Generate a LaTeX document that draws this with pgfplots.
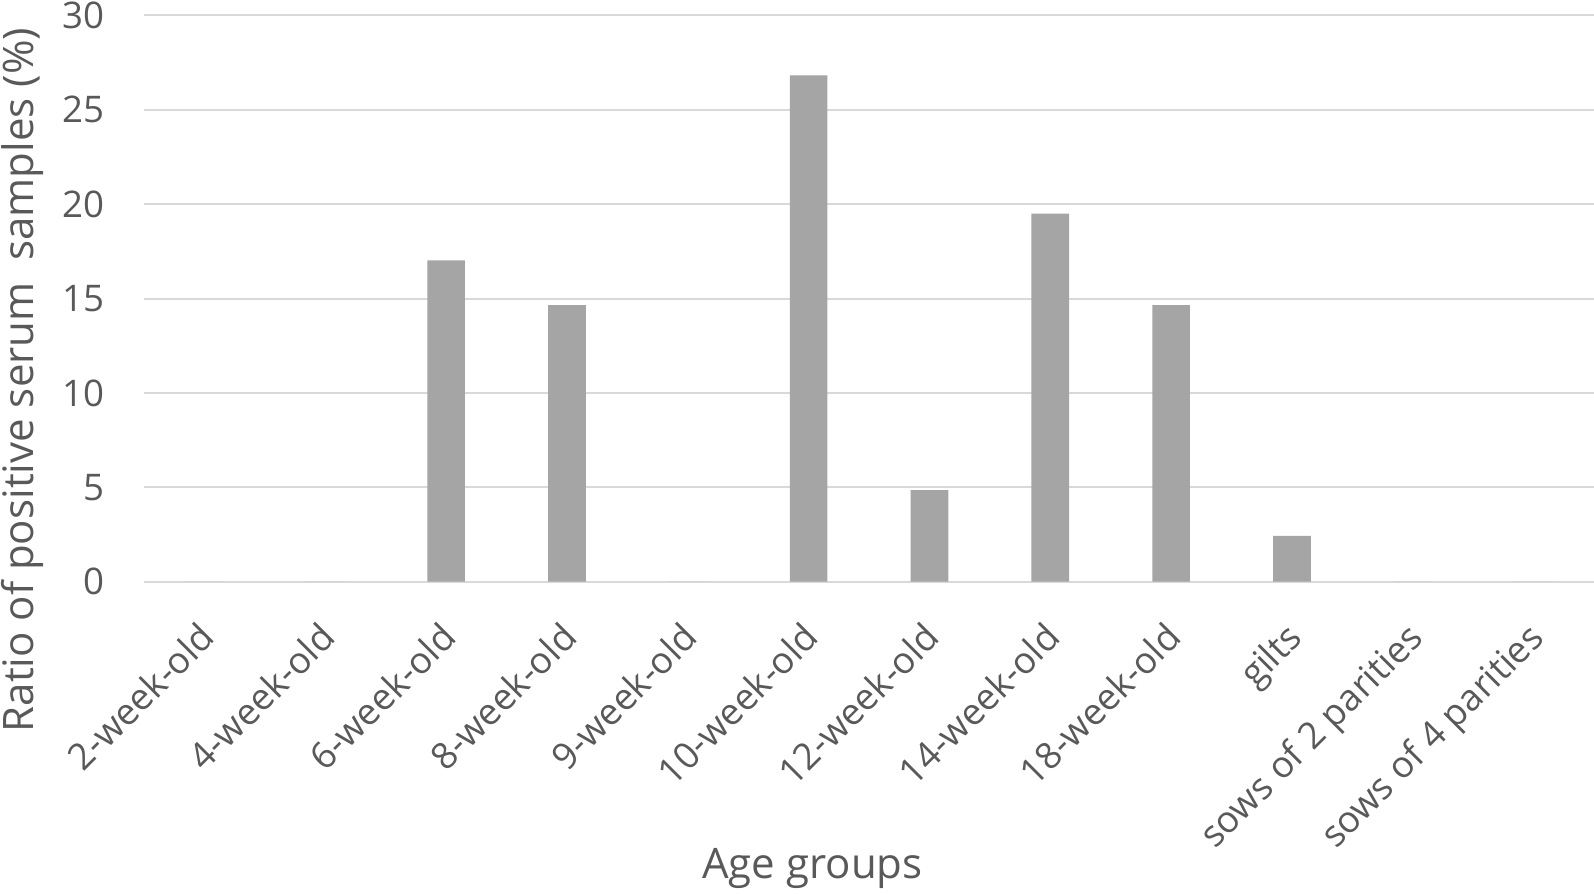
\documentclass[border=0pt]{standalone}
\usepackage{pgfplots}
\pgfplotsset{compat=1.18}
\usepackage{fontspec}
\setmainfont{Open Sans}
\definecolor{txtgray}{RGB}{89,89,89}
\definecolor{gridgray}{RGB}{217,217,217}
\definecolor{bargray}{RGB}{165,165,165}
\begin{document}
\begin{tikzpicture}
\begin{axis}[
  scale only axis,
  width=435pt, height=169.9pt,
  anchor=south west, at={(0,0)},
  xmin=-0.5, xmax=11.5, ymin=0, ymax=30,
  ytick={0,5,...,30},
  xtick={0,...,11},
  xticklabels={2-week-old,4-week-old,6-week-old,8-week-old,9-week-old,10-week-old,12-week-old,14-week-old,18-week-old,gilts,sows of 2 parities,sows of 4 parities},
  axis line style={draw=none},
  major tick length=0pt,
  ymajorgrids=true, xmajorgrids=false,
  grid style={draw=gridgray, line width=0.6pt},
  tick label style={font=\fontsize{11}{12}\selectfont, text=txtgray},
  /pgf/number format/assume math mode=true,
  yticklabel style={anchor=east, inner sep=0pt, xshift=-11.8pt},
  xticklabel style={xshift=-2.3pt, yshift=-11.3pt, anchor=north east, rotate=45, inner sep=0pt},
  xlabel={Age groups},
  ylabel={Ratio of positive serum\ \ samples (\%)},
  label style={font=\fontsize{12.6}{14}\selectfont, text=txtgray},
  xlabel style={at={(axis description cs:0.461,-0.507)}, anchor=center},
  ylabel style={at={(axis description cs:-0.0839,0.356)}, anchor=center, rotate=0},
  clip=false,
]
\addplot[ybar, bar width=11.3pt, fill=bargray, draw=none] coordinates {
(0,0) (1,0) (2,17.02) (3,14.65) (4,0) (5,26.82) (6,4.85) (7,19.5) (8,14.65) (9,2.42) (10,0) (11,0)
};
\end{axis}
\pgfresetboundingbox
\path[use as bounding box] (-43.2pt,-93.4pt) rectangle (435pt,174.5pt);
\end{tikzpicture}
\end{document}
